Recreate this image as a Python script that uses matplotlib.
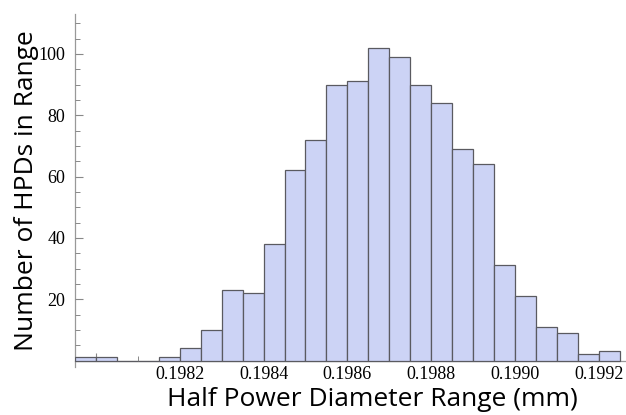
import numpy as np
import matplotlib
matplotlib.use("Agg")
import matplotlib.pyplot as plt
from matplotlib.ticker import MultipleLocator, FixedLocator

# Data
bin_start = 0.19795
bin_width = 0.00005
counts = [1, 1, 0, 0, 1, 4, 10, 23, 22, 38, 62, 72, 90, 91, 102, 99, 90, 84,
          69, 64, 31, 21, 11, 9, 2, 3]
x_major = [0.1980, 0.1982, 0.1984, 0.1986, 0.1988, 0.1990, 0.1992]
x_labels = ["", "0.1982", "0.1984", "0.1986", "0.1988", "0.1990", "0.1992"]
x_minor = [0.1981, 0.1983, 0.1985, 0.1987, 0.1989, 0.1991]
y_major = [20, 40, 60, 80, 100]

W, H = 626, 415
fig = plt.figure(figsize=(W / 100, H / 100), dpi=100)
left = 75 / W
bottom = (H - 367) / H
top = 1 - 14 / H
ax = fig.add_axes([left, bottom, 1 - left, top - bottom])

edges = bin_start + bin_width * np.arange(len(counts))
ax.bar(edges, counts, width=bin_width, align="edge",
       color="#ccd3f5", edgecolor="#5a5a60", linewidth=0.9, zorder=2)

ax.set_xlim(bin_start, bin_start + bin_width * 26.3)
ax.set_ylim(-2.1, 113)

for s in ["top", "right"]:
    ax.spines[s].set_visible(False)
ax.spines["bottom"].set_position(("data", 0))
for s in ["left", "bottom"]:
    ax.spines[s].set_color("#999999")
    ax.spines[s].set_linewidth(0.9)
    ax.spines[s].set_zorder(1)

ax.xaxis.set_major_locator(FixedLocator(x_major))
ax.set_xticklabels(x_labels)
ax.xaxis.set_minor_locator(FixedLocator(x_minor))
ax.yaxis.set_major_locator(FixedLocator(y_major))
ax.yaxis.set_minor_locator(MultipleLocator(5))

ax.tick_params(axis="both", which="major", direction="in", length=5.5,
               width=0.8, color="#888888", labelsize=13)
ax.tick_params(axis="both", which="minor", direction="in", length=3.5,
               width=0.7, color="#888888")
ax.tick_params(axis="x", which="major", pad=4)
ax.tick_params(axis="y", which="major", pad=7)
for lab in ax.get_xticklabels() + ax.get_yticklabels():
    lab.set_fontfamily("Liberation Serif")

fig.text(372 / W, 1 - 399 / H, "Half Power Diameter Range (mm)",
         ha="center", va="center", fontsize=19, family="Open Sans")
fig.text(27 / W, 1 - 191 / H, "Number of HPDs in Range", rotation=90,
         ha="center", va="center", fontsize=19, family="Open Sans")

fig.savefig("out.png", dpi=100)
